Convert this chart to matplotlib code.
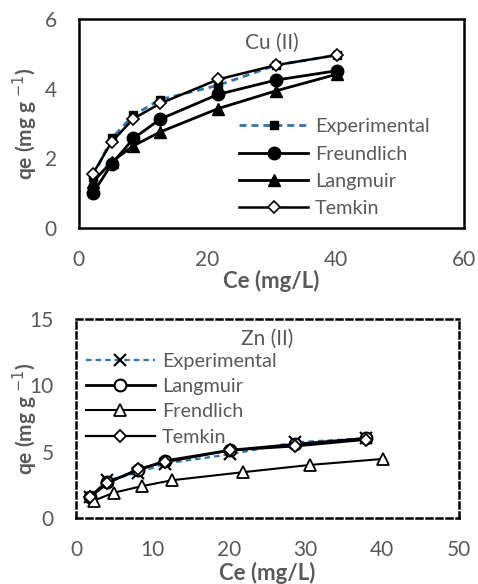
import matplotlib
matplotlib.use("Agg")
import matplotlib.pyplot as plt

plt.rcParams['font.family'] = ['Lato', 'DejaVu Sans']
GRAY = '#595959'
BLUE = '#2E75B6'

# Cu (II)
cu_ce = [2.2, 5.1, 8.5, 12.7, 21.7, 30.7, 40.2]
cu_exp = [1.47, 2.57, 3.24, 3.69, 4.10, 4.68, 4.97]
cu_freund = [1.00, 1.83, 2.57, 3.13, 3.84, 4.25, 4.52]
cu_lang = [1.32, 1.90, 2.36, 2.76, 3.43, 3.94, 4.42]
cu_temkin = [1.56, 2.47, 3.14, 3.58, 4.27, 4.68, 4.97]

# Zn (II)
zn_ce = [1.8, 4.1, 8.1, 11.6, 20.1, 28.6, 37.9]
zn_exp = [1.60, 2.85, 3.40, 4.10, 4.80, 5.70, 6.00]
zn_lang = [1.60, 2.70, 3.60, 4.30, 5.10, 5.55, 6.00]
zn_temkin = [1.55, 2.60, 3.70, 4.20, 5.10, 5.40, 5.90]
zn_ce_f = [2.3, 4.9, 8.6, 12.6, 21.8, 30.6, 40.1]
zn_freund = [1.30, 1.90, 2.40, 2.85, 3.45, 4.00, 4.45]

fig = plt.figure(figsize=(4.78, 5.84), dpi=100)
ax1 = fig.add_axes([0.165, 0.610, 0.806, 0.357])
ax2 = fig.add_axes([0.159, 0.113, 0.801, 0.341])

# top chart
ax1.plot(cu_ce, cu_exp, '--', color=BLUE, lw=2, marker='s', ms=5.5,
         mfc='black', mec='black', label='Experimental', dashes=(2.5, 1.8))
ax1.plot(cu_ce, cu_freund, '-', color='black', lw=2, marker='o', ms=9,
         label='Freundlich')
ax1.plot(cu_ce, cu_lang, '-', color='black', lw=2, marker='^', ms=8,
         label='Langmuir')
ax1.plot(cu_ce, cu_temkin, '-', color='black', lw=1.8, marker='D', ms=6.5,
         mfc='white', mec='black', mew=1.2, label='Temkin')
ax1.set_xlim(0, 60)
ax1.set_ylim(0, 6)
ax1.set_xticks([0, 20, 40, 60])
ax1.set_yticks([0, 2, 4, 6])
ax1.text(0.5, 0.885, 'Cu (II)', transform=ax1.transAxes, ha='center',
         va='center', fontsize=15, color=GRAY)
ax1.legend(loc='lower left', frameon=False, fontsize=14.3, labelcolor=GRAY,
           handlelength=3.5, handletextpad=0.35, labelspacing=0.52,
           borderaxespad=0, borderpad=0, bbox_to_anchor=(0.415, 0.05))
for s in ax1.spines.values():
    s.set_linewidth(1.8)
    s.set_color('black')

# bottom chart
ax2.plot(zn_ce, zn_exp, '--', color=BLUE, lw=1.6, marker='x', ms=8,
         mec='black', mew=1.5, label='Experimental', dashes=(2.5, 1.8))
ax2.plot(zn_ce, zn_lang, '-', color='black', lw=2, marker='o', ms=8.5,
         mfc='white', mec='black', mew=1.5, label='Langmuir')
ax2.plot(zn_ce_f, zn_freund, '-', color='black', lw=1.5, marker='^', ms=9,
         mfc='white', mec='black', mew=1.3, label='Frendlich')
ax2.plot(zn_ce, zn_temkin, '-', color='black', lw=1.6, marker='D', ms=6,
         mfc='white', mec='black', mew=1.3, label='Temkin')
ax2.set_xlim(0, 50)
ax2.set_ylim(0, 15)
ax2.set_xticks([0, 10, 20, 30, 40, 50])
ax2.set_yticks([0, 5, 10, 15])
ax2.text(0.5, 0.9, 'Zn (II)', transform=ax2.transAxes, ha='center',
         va='center', fontsize=15, color=GRAY)
ax2.legend(loc='upper left', frameon=False, fontsize=14.3, labelcolor=GRAY,
           handlelength=3.5, handletextpad=0.35, labelspacing=0.42,
           borderaxespad=0, borderpad=0, bbox_to_anchor=(0.025, 0.83))
for s in ax2.spines.values():
    s.set_linewidth(1.8)
    s.set_color('black')
    s.set_linestyle((0, (2.4, 1.6)))

for ax in (ax1, ax2):
    ax.tick_params(length=0, pad=16, labelsize=15, labelcolor=GRAY)
    ax.set_xlabel('Ce (mg/L)', fontsize=16, fontweight='bold', color=GRAY)
    ax.set_ylabel('qe (mg g $^{-1}$)', fontsize=15, fontweight='bold',
                  color=GRAY)
ax1.xaxis.set_label_coords(0.5, -0.20)
ax2.xaxis.set_label_coords(0.5, -0.222)
ax1.yaxis.set_label_coords(-0.102, 0.5)
ax2.yaxis.set_label_coords(-0.095, 0.5)

fig.savefig('out.png', dpi=100)
